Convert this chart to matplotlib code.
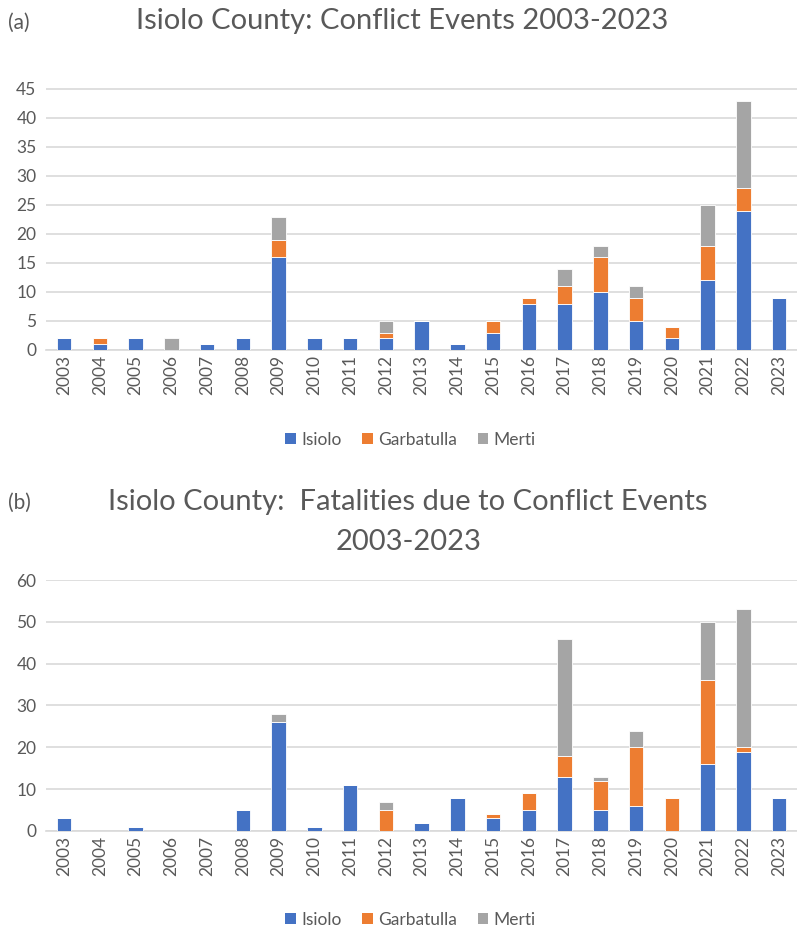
import numpy as np
import matplotlib
matplotlib.use("Agg")
import matplotlib.pyplot as plt
from matplotlib.patches import Patch

years = [str(y) for y in range(2003, 2024)]
series = ["Isiolo", "Garbatulla", "Merti"]
colors = ["#4472C4", "#ED7D31", "#A5A5A5"]

# (a) conflict events
events_isiolo = [2, 1, 2, 0, 1, 2, 16, 2, 2, 2, 5, 1, 3, 8, 8, 10, 5, 2, 12, 24, 9]
events_garbatulla = [0, 1, 0, 0, 0, 0, 3, 0, 0, 1, 0, 0, 2, 1, 3, 6, 4, 2, 6, 4, 0]
events_merti = [0, 0, 0, 2, 0, 0, 4, 0, 0, 2, 0, 0, 0, 0, 3, 2, 2, 0, 7, 15, 0]

# (b) fatalities
fatal_isiolo = [3, 0, 1, 0, 0, 5, 26, 1, 11, 0, 2, 8, 3, 5, 13, 5, 6, 0, 16, 19, 8]
fatal_garbatulla = [0, 0, 0, 0, 0, 0, 0, 0, 0, 5, 0, 0, 1, 4, 5, 7, 14, 8, 20, 1, 0]
fatal_merti = [0, 0, 0, 0, 0, 0, 2, 0, 0, 2, 0, 0, 0, 0, 28, 1, 4, 0, 14, 33, 0]

plt.rcParams["font.family"] = ["Lato", "DejaVu Sans"]
text_color = "#595959"
grid_color = "#D9D9D9"


def stacked(ax, data, ymax, step):
    x = np.arange(len(years))
    bottom = np.zeros(len(years))
    for vals, color in zip(data, colors):
        vals = np.array(vals)
        ax.bar(x, vals, 0.4, bottom=bottom, color=color,
               edgecolor="white", linewidth=0.6, zorder=3)
        bottom += vals
    ax.set_xlim(-0.5, len(years) - 0.5)
    ax.set_ylim(0, ymax)
    ax.set_yticks(np.arange(0, ymax + 1, step))
    ax.set_xticks(x)
    ax.set_xticklabels(years, rotation=90)
    ax.yaxis.grid(True, color=grid_color, linewidth=1.2, zorder=0)
    ax.tick_params(axis="both", length=0, labelsize=12.5, colors=text_color)
    ax.tick_params(axis="y", pad=7)
    for side in ["top", "right", "left"]:
        ax.spines[side].set_visible(False)
    ax.spines["bottom"].set_color(grid_color)
    ax.spines["bottom"].set_linewidth(1.2)


fig = plt.figure(figsize=(7.97, 9.34), dpi=100)

ax1 = fig.add_axes([0.058, 0.6253, 0.942, 0.3105])
stacked(ax1, [events_isiolo, events_garbatulla, events_merti], 50, 5)
ax1.set_yticks(np.arange(0, 50, 5))

ax2 = fig.add_axes([0.058, 0.1103, 0.942, 0.2687])
stacked(ax2, [fatal_isiolo, fatal_garbatulla, fatal_merti], 60, 10)

fig.text(0.01, 0.976, "(a)", fontsize=15, color=text_color, va="center")
fig.text(0.505, 0.977, "Isiolo County: Conflict Events 2003-2023",
         fontsize=21, color=text_color, ha="center", va="center")

fig.text(0.01, 0.462, "(b)", fontsize=15, color=text_color, va="center")
fig.text(0.512, 0.462, "Isiolo County:  Fatalities due to Conflict Events",
         fontsize=21, color=text_color, ha="center", va="center")
fig.text(0.512, 0.42, "2003-2023",
         fontsize=21, color=text_color, ha="center", va="center")

handles = [Patch(facecolor=c, label=s) for c, s in zip(colors, series)]
for y in [0.529, 0.015]:
    fig.legend(handles=handles, loc="center", bbox_to_anchor=(0.515, y),
               ncol=3, frameon=False, fontsize=12.5, handlelength=0.6,
               handleheight=0.6, handletextpad=0.3, columnspacing=1.2,
               labelcolor=text_color)

fig.savefig("out.png", dpi=100)
